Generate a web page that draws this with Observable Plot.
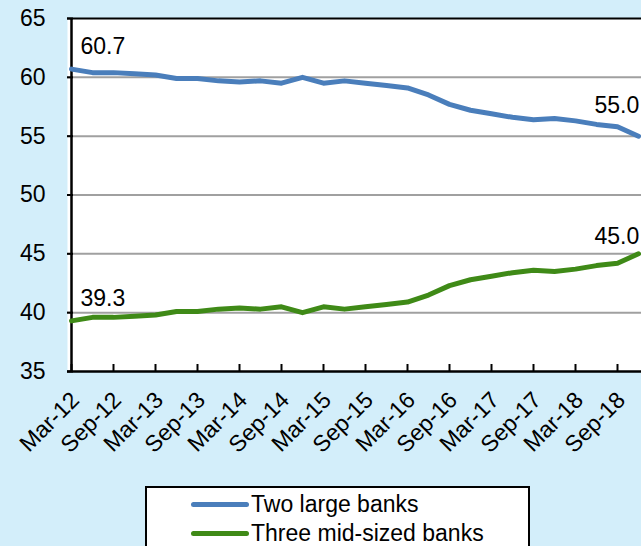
<!DOCTYPE html>
<html><head><meta charset="utf-8">
<script src="https://cdn.jsdelivr.net/npm/d3@7"></script>
<script src="https://cdn.jsdelivr.net/npm/@observablehq/plot@0.6"></script>
<style>
html,body{margin:0;padding:0;background:#D3EEFA;width:641px;height:546px;overflow:hidden;font-family:"Liberation Sans",Arial,sans-serif;}
#chart{position:absolute;left:0;top:0;}
#legend{position:absolute;left:145px;top:486px;width:385px;height:64px;background:#fff;border:2px solid #000;box-sizing:border-box;}
.item{position:absolute;left:44px;height:24px;display:flex;align-items:center;font-size:23px;color:#000;white-space:nowrap;}
.sw{display:inline-block;width:58px;height:5px;border-radius:3px;margin-right:2px;}
</style></head><body><div id="chart"></div><div id="legend"></div>
<script>
const quarters = ["Mar-12","Jun-12","Sep-12","Dec-12","Mar-13","Jun-13","Sep-13","Dec-13",
  "Mar-14","Jun-14","Sep-14","Dec-14","Mar-15","Jun-15","Sep-15","Dec-15",
  "Mar-16","Jun-16","Sep-16","Dec-16","Mar-17","Jun-17","Sep-17","Dec-17",
  "Mar-18","Jun-18","Sep-18","Dec-18"];
const twoLargeBanks = [60.7,60.4,60.4,60.3,60.2,59.9,59.9,59.7,59.6,59.7,59.5,60.0,59.5,59.7,59.5,59.3,
  59.1,58.5,57.7,57.2,56.9,56.6,56.4,56.5,56.3,56.0,55.8,55.0];
const threeMidSizedBanks = [39.3,39.6,39.6,39.7,39.8,40.1,40.1,40.3,40.4,40.3,40.5,40.0,40.5,40.3,40.5,40.7,
  40.9,41.5,42.3,42.8,43.1,43.4,43.6,43.5,43.7,44.0,44.2,45.0];
const seriesNames = ["Two large banks","Three mid-sized banks"];
const seriesColors = ["#4A7EBB","#3F8A17"];
const yTicks = [35,40,45,50,55,60,65];
const xTickLabels = quarters.filter(q => q.startsWith("Mar") || q.startsWith("Sep"));

const seriesValues = [twoLargeBanks, threeMidSizedBanks];
const rows = [];
seriesValues.forEach((vals, s) => vals.forEach((v, i) => rows.push({q: quarters[i], v, series: seriesNames[s], i})));
const last = quarters.length - 1;
const firstLabels = rows.filter(d => d.i === 0);
const lastLabels = rows.filter(d => d.i === last);

const chart = Plot.plot({
  width: 641, height: 480,
  marginLeft: 67, marginRight: 0, marginTop: 18, marginBottom: 109,
  style: {fontFamily: "Liberation Sans, Arial, sans-serif", fontSize: "23px", background: "transparent", color: "#000", overflow: "visible"},
  x: {type: "point", domain: quarters, padding: 0},
  y: {domain: [35, 65]},
  color: {domain: seriesNames, range: seriesColors},
  marks: [
    Plot.frame({fill: "white", stroke: "none"}),
    Plot.ruleY(yTicks.filter(v => v > 35 && v < 65), {stroke: "#A0A0A0", strokeWidth: 2}),
    Plot.ruleY([65], {stroke: "#000", strokeWidth: 2}),
    Plot.ruleY([35], {stroke: "#000", strokeWidth: 2.5}),
    Plot.ruleX([quarters[0]], {stroke: "#000", strokeWidth: 2.5}),
    Plot.axisY({ticks: yTicks, tickSize: -6, tickPadding: 28, strokeWidth: 2, stroke: "#000", label: null, fontSize: 23}),
    Plot.axisX({ticks: xTickLabels, tickSize: -7, tickFormat: () => "", strokeWidth: 2, stroke: "#000", label: null}),
    Plot.text(xTickLabels, {x: d => d, frameAnchor: "bottom", rotate: -45, textAnchor: "end", dx: 9, dy: 30, fontSize: 23, fill: "#000"}),
    Plot.line(rows, {x: "q", y: "v", z: "series", stroke: "series", strokeWidth: 5, strokeLinejoin: "round", strokeLinecap: "round"}),
    Plot.text(firstLabels, {x: "q", y: "v", text: d => d.v.toFixed(1), textAnchor: "start", dx: 9, dy: -22.5, fontSize: 23, fill: "#000"}),
    Plot.text(lastLabels.filter(d => d.series === seriesNames[0]), {x: "q", y: "v", text: d => d.v.toFixed(1), textAnchor: "start", dx: -44, dy: -30.5, fontSize: 23, fill: "#000"}),
    Plot.text(lastLabels.filter(d => d.series === seriesNames[1]), {x: "q", y: "v", text: d => d.v.toFixed(1), textAnchor: "start", dx: -44, dy: -17.5, fontSize: 23, fill: "#000"})
  ]
});
document.getElementById("chart").appendChild(chart);

const legend = document.getElementById("legend");
seriesNames.forEach((name, k) => {
  const it = document.createElement("div");
  it.className = "item";
  it.style.top = (4 + k * 29) + "px";
  it.innerHTML = `<span class="sw" style="background:${seriesColors[k]}"></span>${name}`;
  legend.appendChild(it);
});
</script></body></html>
